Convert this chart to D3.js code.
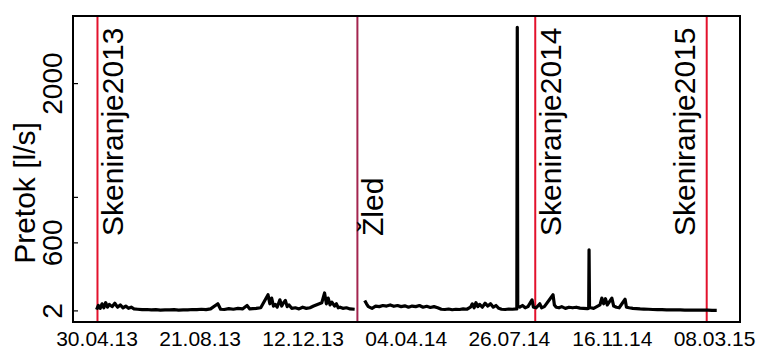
<!DOCTYPE html>
<html>
<head>
<meta charset="utf-8">
<script src="https://cdn.jsdelivr.net/npm/d3@7"></script>
<style>
  body { margin: 0; background: #fff; }
  text { font-family: "Liberation Sans", Arial, sans-serif; fill: #000; }
</style>
</head>
<body>
<svg width="759" height="350"></svg>
<script>
// flow series: day offset from startDate and flow in l/s (null = gap in record)
var startDate = '2013-04-30';
var dayOffset = [0, 2, 4, 6, 8, 10, 12, 14, 17, 20, 23, 26, 29, 32, 35, 38, 41,
  45, 50, 55, 60, 65, 70, 75, 80, 85, 90, 95, 100, 105, 110, 115, 120, 125,
  133, 136, 140, 145, 150, 155, 160, 165, 168, 175, 180,
  188, 190, 192, 194, 196, 198, 201, 203, 205, 207, 209, 211,
  214, 218, 222, 226, 230, 234, 238,
  247, 250, 252, 254, 256, 258, 261, 263, 265, 267, 270, 274, 278, 283,
  288,
  294, 296, 298, 302, 306, 310, 314, 318, 322, 326, 330, 334, 338, 342, 346, 350, 354, 358, 362, 366, 370, 374,
  378, 382, 386, 390, 394, 398, 402, 406,
  410, 412, 414, 416, 418, 420, 423, 426, 429, 432, 435, 438, 441,
  444, 448, 452, 456, 460, 460.8, 461.3, 461.8,
  464, 467, 470, 473, 477.5, 479, 482, 486, 488, 491,
  500.5, 502, 504, 507, 510, 514, 518, 522, 526, 530, 534, 538,
  539.6, 540, 540.5,
  542, 545, 552, 554, 556, 558, 560, 565, 567, 570, 573, 579.5, 581, 584, 588, 592, 596,
  600, 605, 610, 615, 620, 625, 630, 635, 640, 645, 650, 655, 660, 665, 670, 675, 680];
var flow = [8, 45, 20, 60, 25, 70, 30, 55, 35, 65, 30, 50, 25, 40, 20, 30, 15,
  12, 8, 10, 6, 9, 5, 7, 6, 8, 5, 7, 6, 10, 8, 12, 9, 15,
  60, 12, 10, 18, 12, 20, 15, 45, 15, 20, 25,
  140, 60, 110, 40, 55, 30, 95, 40, 70, 90, 35, 50,
  20, 25, 15, 30, 20, 25, 40,
  70, 155, 60, 110, 50, 75, 40, 60, 25, 30, 20, 25, 15, 12,
  null,
  90, 60, 35, 20, 40, 35, 45, 40, 50, 38, 45, 35, 42, 30, 40, 35, 45, 30, 38, 28, 35, 25,
  12, 10, 14, 8, 12, 10, 15, 12,
  30, 60, 25, 70, 35, 55, 30, 65, 40, 60, 30, 45, 20,
  12, 10, 14, 12, 15, 15, 2490, 40,
  30, 45, 25, 35, 95, 30, 25, 60, 25, 35,
  140, 50, 30, 25, 35, 20, 30, 25, 30, 22, 20, 18,
  20, 535, 30,
  25, 20, 50, 110, 60, 105, 50, 110, 40, 30, 25, 100, 30, 25, 20, 18, 15,
  14, 12, 10, 9, 8, 7, 7, 6, 6, 5, 5, 5, 4, 4, 4, 3, 3];

var eventDates = ['2013-05-01', '2014-02-10', '2014-08-24', '2015-02-28'];
var eventLabels = ['Skeniranje2013', '\u017dled', 'Skeniranje2014', 'Skeniranje2015'];
var eventColors = ['#e3122c', '#a3254f', '#e3122c', '#e3122c'];

var xTickDates = ['2013-04-30', '2013-08-21', '2013-12-12', '2014-04-04',
  '2014-07-26', '2014-11-16', '2015-03-08'];
var yTickValues = [2, 600, 1000, 2000];
var yTickLabels = ['2', '600', '', '2000'];

var parse = d3.utcParse('%Y-%m-%d');
var fmt = d3.utcFormat('%d.%m.%y');
var start = parse(startDate);

var data = dayOffset.map(function(d, i) {
  return { date: new Date(start.getTime() + d * 864e5), value: flow[i] };
});

var plotL = 73, plotT = 16, plotR = 740, plotB = 322;

var x = d3.scaleUtc()
  .domain([Date.UTC(2013, 3, 4, 4), Date.UTC(2015, 3, 5, 12)])
  .range([plotL, plotR]);
var y = d3.scaleLinear()
  .domain([-100, 2590])
  .range([plotB, plotT]);

var svg = d3.select('svg');

// event lines
svg.selectAll('.event')
  .data(eventDates)
  .enter()
  .append('line')
  .attr('class', 'event')
  .attr('x1', function(d) { return x(parse(d)); })
  .attr('x2', function(d) { return x(parse(d)); })
  .attr('y1', plotT)
  .attr('y2', plotB)
  .attr('stroke', function(d, i) { return eventColors[i]; })
  .attr('stroke-width', 2);

// series
var line = d3.line()
  .defined(function(d) { return d.value !== null; })
  .x(function(d) { return x(d.date); })
  .y(function(d) { return y(d.value); });

svg.append('path')
  .datum(data)
  .attr('d', line)
  .attr('fill', 'none')
  .attr('stroke', '#000')
  .attr('stroke-width', 3.2)
  .attr('stroke-linejoin', 'round');

// event labels, rotated
svg.selectAll('.event-label')
  .data(eventLabels)
  .enter()
  .append('text')
  .attr('class', 'event-label')
  .attr('transform', function(d, i) {
    var dx = i === 3 ? -12 : 26;
    return 'translate(' + (x(parse(eventDates[i])) + dx) + ',236) rotate(-90)';
  })
  .style('font-size', '30px')
  .text(function(d) { return d; });

// y axis, ticks pointing inward
var yAxis = d3.axisLeft(y)
  .tickValues(yTickValues)
  .tickSize(-5)
  .tickFormat(function(d, i) { return yTickLabels[i]; });

var gy = svg.append('g')
  .attr('transform', 'translate(' + plotL + ',0)')
  .call(yAxis);
gy.select('.domain').remove();
gy.selectAll('.tick line').attr('stroke', '#000').attr('stroke-width', 1.2);
gy.selectAll('.tick text')
  .attr('x', null).attr('dy', null)
  .attr('text-anchor', 'middle')
  .attr('transform', 'translate(-11,0) rotate(-90)')
  .style('font-size', '28px')
  .style('font-family', '"Liberation Sans", Arial, sans-serif')
  .attr('fill', '#000');

// x axis labels only
var xAxis = d3.axisBottom(x)
  .tickValues(xTickDates.map(parse))
  .tickSize(0)
  .tickFormat(fmt);

var gx = svg.append('g')
  .attr('transform', 'translate(0,' + plotB + ')')
  .call(xAxis);
gx.select('.domain').remove();
gx.selectAll('.tick text')
  .attr('y', 24).attr('dy', null)
  .style('font-size', '21px')
  .style('font-family', '"Liberation Sans", Arial, sans-serif')
  .attr('fill', '#000');

// frame
svg.append('rect')
  .attr('x', plotL)
  .attr('y', plotT)
  .attr('width', plotR - plotL)
  .attr('height', plotB - plotT)
  .attr('fill', 'none')
  .attr('stroke', '#000')
  .attr('stroke-width', 2);

svg.append('text')
  .attr('transform', 'translate(35,193) rotate(-90)')
  .attr('text-anchor', 'middle')
  .style('font-size', '30px')
  .text('Pretok [l/s]');
</script>
</body>
</html>
